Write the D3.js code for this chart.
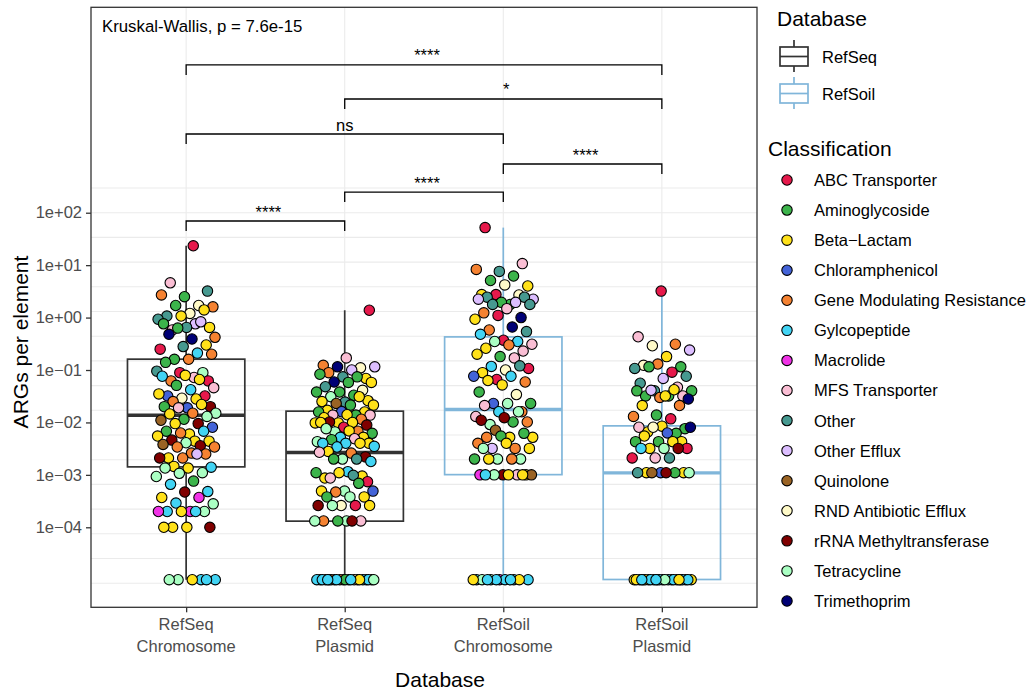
<!DOCTYPE html>
<html>
<head>
<meta charset="utf-8">
<script src="https://cdn.jsdelivr.net/npm/d3@7"></script>
<style>
  body { margin: 0; background: #fff; }
  svg text { font-family: "Liberation Sans", Arial, Helvetica, sans-serif; }
</style>
</head>
<body>
<svg id="chart" width="1030" height="692"></svg>
<script>
// ---------------- data ----------------
const groups = ["RefSeq Chromosome", "RefSeq Plasmid", "RefSoil Chromosome", "RefSoil Plasmid"];
const groupDatabase = ["RefSeq", "RefSeq", "RefSoil", "RefSoil"];
const databases = ["RefSeq", "RefSoil"];

const classCodes = ["ABC", "Ami", "Bet", "Chl", "Gen", "Gly", "Mac", "MFS", "Oth", "OEf", "Qui", "RND", "rRN", "Tet", "Tri"];
const classNames = ["ABC Transporter", "Aminoglycoside", "Beta\u2212Lactam", "Chloramphenicol",
  "Gene Modulating Resistance", "Gylcopeptide", "Macrolide", "MFS Transporter", "Other",
  "Other Efflux", "Quinolone", "RND Antibiotic Efflux", "rRNA Methyltransferase", "Tetracycline", "Trimethoprim"];

// Box summaries per group (ARGs per element)
const whiskerLow  = [1e-5, 1e-5, 1e-5, 1e-5];
const lowerHinge  = [0.00142, 0.000131, 0.00101, 0.0000101];
const medians     = [0.0137, 0.00267, 0.0176, 0.00109];
const upperHinge  = [0.161, 0.0164, 0.428, 0.0086];
const whiskerHigh = [23.4, 1.38, 52, 3.1];

// Elements with no ARG hits are shown at 1e-05
const refseqChromosome = [
  [23.4,"ABC"],[4.6,"MFS"],[3.2,"Oth"],[2.5,"Ami"],[2.7,"Gen"],[1.7,"RND"],[1.7,"Ami"],[1.6,"Gen"],[1.2,"RND"],[1.07,"Oth"],
  [1.4,"Bet"],[1.07,"Bet"],[0.93,"Oth"],[0.76,"OEf"],[0.58,"MFS"],[0.65,"Bet"],[0.65,"Oth"],[0.76,"Ami"],[0.83,"OEf"],[0.63,"Ami"],
  [0.42,"Gen"],[0.39,"Tri"],[0.48,"Tri"],[0.30,"Bet"],[0.28,"Oth"],[0.25,"ABC"],[0.21,"Gly"],[0.16,"Ami"],[0.20,"Gen"],[0.16,"Gen"],
  [0.14,"Ami"],[0.089,"Tet"],[0.089,"ABC"],[0.095,"Oth"],[0.072,"MFS"],[0.062,"Gen"],[0.062,"ABC"],[0.079,"Bet"],[0.076,"Gly"],[0.066,"Bet"],
  [0.051,"Ami"],[0.046,"MFS"],[0.042,"Gly"],[0.032,"Chl"],[0.032,"ABC"],[0.029,"RND"],[0.035,"Bet"],[0.028,"Bet"],[0.025,"Gen"],[0.020,"rRN"],
  [0.019,"Chl"],[0.020,"Ami"],[0.022,"Bet"],[0.019,"MFS"],[0.015,"Tet"],[0.015,"Gen"],[0.0145,"Bet"],[0.013,"Tet"],[0.0115,"Ami"],[0.011,"Qui"],
  [0.0095,"rRN"],[0.0095,"Bet"],[0.0081,"Chl"],[0.006,"Bet"],[0.0068,"Ami"],[0.0068,"Gly"],[0.0063,"Gen"],[0.0055,"Bet"],[0.0044,"Bet"],[0.0046,"rRN"],
  [0.0044,"Bet"],[0.0041,"Tet"],[0.0038,"Qui"],[0.0036,"rRN"],[0.0034,"Gen"],[0.0034,"Gen"],[0.0026,"Gen"],[0.0021,"Bet"],[0.0025,"Gen"],[0.0021,"Gen"],
  [0.0021,"rRN"],[0.0025,"OEf"],[0.00145,"Bet"],[0.0014,"Gly"],[0.00135,"Bet"],[0.00135,"Tet"],[0.0011,"Tet"],[0.00107,"Tet"],[0.00093,"Tet"],[0.00076,"Ami"],
  [0.00066,"Gly"],[0.00048,"Gly"],[0.00047,"rRN"],[0.00037,"Bet"],[0.00037,"Mac"],[0.00029,"Gly"],[0.00028,"Tet"],[0.0002,"Mac"],[0.0002,"Gly"],[0.0002,"Tet"],
  [0.0002,"Bet"],[0.0002,"Mac"],[0.0002,"Gly"],[0.0001,"Bet"],[0.0001,"rRN"],[0.0001,"Bet"],[0.0001,"Bet"],
  [1e-5,"Gly"],[1e-5,"Tet"],[1e-5,"Gly"],[1e-5,"Bet"],[1e-5,"Tet"],[1e-5,"Gly"]
];

const refseqPlasmid = [
  [1.38,"ABC"],[0.17,"MFS"],[0.123,"Gen"],[0.11,"RND"],[0.115,"Tri"],[0.115,"OEf"],[0.1,"OEf"],[0.089,"Gen"],[0.069,"Bet"],[0.074,"Oth"],
  [0.083,"Ami"],[0.074,"Ami"],[0.059,"Tri"],[0.058,"Bet"],[0.058,"Ami"],[0.048,"Oth"],[0.041,"RND"],[0.038,"Ami"],[0.038,"Ami"],[0.033,"Ami"],
  [0.031,"Tet"],[0.026,"Bet"],[0.0245,"Oth"],[0.025,"Bet"],[0.031,"Bet"],[0.023,"Qui"],[0.0214,"Bet"],[0.0214,"Ami"],[0.017,"Bet"],[0.0158,"Bet"],
  [0.016,"Chl"],[0.0158,"Ami"],[0.0138,"Ami"],[0.0138,"MFS"],[0.0138,"MFS"],[0.014,"Bet"],[0.0123,"Bet"],[0.0115,"Gen"],[0.0098,"Bet"],[0.0098,"Bet"],
  [0.01,"Bet"],[0.0102,"rRN"],[0.0089,"rRN"],[0.0081,"ABC"],[0.01,"Bet"],[0.0068,"Gen"],[0.0066,"Tet"],[0.0062,"Ami"],[0.0069,"Bet"],[0.0076,"Tet"],
  [0.0052,"Bet"],[0.0052,"Gly"],[0.0043,"Tet"],[0.0049,"MFS"],[0.0047,"Ami"],[0.004,"Bet"],[0.004,"Gly"],[0.004,"Gly"],[0.004,"Bet"],[0.0034,"Gly"],
  [0.0035,"Gly"],[0.0026,"Gen"],[0.0028,"Bet"],[0.0022,"rRN"],[0.002,"Tet"],[0.0027,"MFS"],[0.002,"Oth"],[0.002,"Ami"],[0.0018,"Gly"],[0.00115,"Gly"],
  [0.00087,"Bet"],[0.00095,"Bet"],[0.0011,"Bet"],[0.0011,"Ami"],[0.00098,"Oth"],[0.00087,"MFS"],[0.00074,"ABC"],[0.00049,"Tet"],[0.00049,"Bet"],[0.00069,"Ami"],
  [0.00047,"Gen"],[0.00049,"Chl"],[0.00038,"Tet"],[0.00038,"Ami"],[0.00038,"Bet"],
  [0.00026,"RND"],[0.00026,"rRN"],[0.00026,"ABC"],[0.00026,"Tet"],[0.00026,"Bet"],
  [0.000132,"Tet"],[0.000132,"Gen"],[0.000132,"MFS"],[0.000132,"Ami"],[0.000132,"Tet"],[0.000132,"rRN"],
  [1e-5,"Gly"],[1e-5,"Gly"],[1e-5,"Bet"],[1e-5,"Qui"],[1e-5,"Gly"],[1e-5,"Gly"],[1e-5,"Bet"],[1e-5,"Gly"],[1e-5,"Bet"],[1e-5,"Gly"],
  [1e-5,"Gen"],[1e-5,"Gly"],[1e-5,"RND"],[1e-5,"Qui"],[1e-5,"Gly"],[1e-5,"Ami"],[1e-5,"Gly"],[1e-5,"Bet"],[1e-5,"Gly"],[1e-5,"Tet"],
  [1e-5,"Gly"],[1e-5,"Gly"]
];

const refsoilChromosome = [
  [52,"ABC"],[10.7,"MFS"],[7.6,"Oth"],[8.3,"Gen"],[6.2,"Ami"],[5.1,"Ami"],[4.0,"Bet"],[4.2,"RND"],[2.75,"Bet"],[2.7,"RND"],
  [2.75,"ABC"],[2.24,"OEf"],[1.78,"Ami"],[2.45,"Oth"],[2.45,"Oth"],[1.95,"Ami"],[2.24,"OEf"],[1.95,"OEf"],[1.78,"Oth"],[1.78,"Oth"],
  [1.48,"MFS"],[1.23,"Gen"],[1.0,"Tri"],[1.1,"ABC"],[0.93,"Bet"],[0.66,"Tri"],[0.58,"Gen"],[0.54,"Oth"],[0.37,"ABC"],[0.48,"Gly"],
  [0.35,"Gly"],[0.35,"Tet"],[0.31,"MFS"],[0.30,"Gen"],[0.26,"Bet"],[0.23,"MFS"],[0.18,"Ami"],[0.20,"Bet"],[0.17,"MFS"],[0.117,"Gly"],
  [0.107,"ABC"],[0.1,"RND"],[0.089,"Bet"],[0.12,"Oth"],[0.066,"ABC"],[0.076,"Chl"],[0.076,"Gly"],[0.063,"Bet"],[0.059,"Gen"],[0.052,"Bet"],
  [0.038,"Ami"],[0.034,"RND"],[0.023,"Chl"],[0.023,"Ami"],[0.023,"Tet"],[0.021,"MFS"],[0.016,"Gen"],[0.016,"Gly"],[0.013,"MFS"],[0.0102,"Ami"],
  [0.0091,"Tet"],[0.0102,"Gen"],[0.0123,"rRN"],[0.011,"rRN"],[0.016,"Tet"],[0.0071,"Qui"],[0.0052,"Bet"],[0.0052,"Bet"],[0.0052,"Gen"],[0.0062,"Ami"],
  [0.0055,"Ami"],[0.004,"Gen"],[0.0032,"Gen"],[0.0032,"OEf"],[0.0032,"Bet"],[0.004,"Bet"],[0.0032,"Tet"],
  [0.002,"Tet"],[0.002,"Tet"],[0.002,"Ami"],[0.002,"Gen"],[0.002,"Bet"],
  [0.001,"Bet"],[0.001,"rRN"],[0.001,"Mac"],[0.001,"MFS"],[0.001,"Tet"],[0.001,"Qui"],[0.001,"Bet"],[0.001,"Gly"],[0.001,"Bet"],
  [1e-5,"Mac"],[1e-5,"Gly"],[1e-5,"Gly"],[1e-5,"Tet"],[1e-5,"Gly"],[1e-5,"Gly"],[1e-5,"Tet"],[1e-5,"Bet"],[1e-5,"Gly"],[1e-5,"Bet"],
  [1e-5,"Gly"],[1e-5,"Gly"]
];

const refsoilPlasmid = [
  [3.2,"ABC"],[0.43,"MFS"],[0.31,"Gen"],[0.29,"RND"],[0.24,"OEf"],[0.18,"Bet"],[0.123,"RND"],[0.115,"Ami"],[0.13,"Gen"],[0.107,"Oth"],
  [0.091,"ABC"],[0.115,"Ami"],[0.076,"Oth"],[0.069,"OEf"],[0.056,"Oth"],[0.047,"MFS"],[0.04,"Oth"],[0.04,"Ami"],[0.032,"Ami"],[0.032,"Ami"],
  [0.032,"MFS"],[0.03,"Gen"],[0.04,"Ami"],[0.042,"Bet"],[0.041,"OEf"],[0.028,"Tri"],[0.032,"Bet"],[0.021,"Bet"],[0.021,"Gen"],[0.0138,"Ami"],
  [0.013,"Gen"],[0.0117,"ABC"],[0.0066,"Bet"],[0.0076,"Ami"],[0.0085,"Bet"],[0.0081,"MFS"],[0.0062,"Ami"],[0.0081,"RND"],[0.0081,"Tri"],[0.0063,"Chl"],
  [0.0055,"Bet"],[0.0043,"Bet"],[0.0043,"Ami"],[0.0043,"Ami"],[0.0043,"Bet"],[0.0032,"Bet"],[0.0032,"ABC"],[0.0032,"Tet"],[0.0032,"Gly"],[0.0032,"rRN"],
  [0.0021,"MFS"],[0.0021,"ABC"],[0.0021,"Oth"],
  [0.0011,"Bet"],[0.0011,"Bet"],[0.0011,"Chl"],[0.0011,"Oth"],[0.0011,"Ami"],[0.0011,"Qui"],[0.0011,"Tet"],[0.0011,"rRN"],
  [1e-5,"Gly"],[1e-5,"Gly"],[1e-5,"Gly"],[1e-5,"Bet"],[1e-5,"Gly"],[1e-5,"Gly"],[1e-5,"Bet"],[1e-5,"Gly"],[1e-5,"Gly"],[1e-5,"Gen"],
  [1e-5,"Qui"],[1e-5,"Bet"],[1e-5,"Gly"],[1e-5,"Bet"],[1e-5,"Gly"],[1e-5,"Gly"],[1e-5,"Bet"],[1e-5,"Gly"],[1e-5,"Gly"],[1e-5,"Gly"],
  [1e-5,"Tet"],[1e-5,"Gly"],[1e-5,"Bet"],[1e-5,"Gly"]
];

const groupPoints = [refseqChromosome, refseqPlasmid, refsoilChromosome, refsoilPlasmid];

// Pairwise Wilcoxon results: [group a, group b, label, bracket height]
const comparisons = [
  ["RefSeq Chromosome", "RefSoil Plasmid", "****", 65800],
  ["RefSeq Plasmid", "RefSoil Plasmid", "*", 14760],
  ["RefSeq Chromosome", "RefSoil Chromosome", "ns", 3170],
  ["RefSoil Chromosome", "RefSoil Plasmid", "****", 849],
  ["RefSeq Plasmid", "RefSoil Chromosome", "****", 248],
  ["RefSeq Chromosome", "RefSeq Plasmid", "****", 69.5]
];

const yTickValues = [1e2, 1e1, 1e0, 1e-1, 1e-2, 1e-3, 1e-4];
const globalTest = "Kruskal-Wallis, p = 7.6e-15";

// ---------------- styling ----------------
const classColors = ["#e6194B", "#3cb44b", "#ffe119", "#4363d8", "#f58231", "#42d4f4", "#f032e6",
  "#fabed4", "#469990", "#dcbeff", "#9A6324", "#fffac8", "#800000", "#aaffc3", "#000075"];
const dbColors = ["#333333", "#80B6DA"];

const panel = { left: 91, right: 757, top: 7.3, bottom: 607.3 };
const svg = d3.select("#chart");

const x = d3.scalePoint().domain(groups).range([panel.left, panel.right]).padding(0.6);
const step = x.step();
const y = d3.scaleLog()
  .domain([Math.pow(10, -5.526), Math.pow(10, 5.918)])
  .range([panel.bottom, panel.top]);

const colorOfClass = d3.scaleOrdinal().domain(classCodes).range(classColors);
const colorOfDb = d3.scaleOrdinal().domain(databases).range(dbColors);

// ---------------- panel background & grid ----------------
svg.append("rect")
  .attr("x", panel.left).attr("y", panel.top)
  .attr("width", panel.right - panel.left).attr("height", panel.bottom - panel.top)
  .attr("fill", "#fff");

const grid = svg.append("g").attr("stroke", "#ebebeb").attr("stroke-width", 1.1);
// horizontal guide lines, evenly spaced on the log axis
const gridLevels = d3.range(17).map(k => Math.pow(10, 2.4711 - 0.4711 * k));
grid.selectAll("line.h").data(gridLevels).join("line")
  .attr("x1", panel.left).attr("x2", panel.right)
  .attr("y1", d => y(d)).attr("y2", d => y(d));
grid.selectAll("line.v").data(groups).join("line")
  .attr("x1", d => x(d)).attr("x2", d => x(d))
  .attr("y1", panel.top).attr("y2", panel.bottom);

// ---------------- boxes ----------------
const boxW = 0.74 * step;
const boxes = svg.append("g");
groups.forEach((g, i) => {
  const cx = x(g);
  const col = colorOfDb(groupDatabase[i]);
  const b = boxes.append("g").attr("stroke", col).attr("fill", "none");
  b.append("line").attr("x1", cx).attr("x2", cx)
    .attr("y1", y(whiskerHigh[i])).attr("y2", y(upperHinge[i])).attr("stroke-width", 1.7);
  b.append("line").attr("x1", cx).attr("x2", cx)
    .attr("y1", y(lowerHinge[i])).attr("y2", y(whiskerLow[i])).attr("stroke-width", 1.7);
  b.append("rect")
    .attr("x", cx - boxW / 2).attr("width", boxW)
    .attr("y", y(upperHinge[i])).attr("height", y(lowerHinge[i]) - y(upperHinge[i]))
    .attr("stroke-width", 1.7);
  b.append("line").attr("x1", cx - boxW / 2).attr("x2", cx + boxW / 2)
    .attr("y1", y(medians[i])).attr("y2", y(medians[i])).attr("stroke-width", 3.4);
});

// ---------------- jittered points ----------------
const jitterWidth = 0.19; // fraction of the category step, each side
const pts = svg.append("g");
groupPoints.forEach((arr, gi) => {
  const cx = x(groups[gi]);
  pts.selectAll(null).data(arr).join("circle")
    .attr("cx", (d, i) => {
      const u = (((i + 1) * 0.6180339887 + gi * 0.29) % 1) - 0.5;
      return cx + u * 2 * jitterWidth * step;
    })
    .attr("cy", d => y(d[0]))
    .attr("r", 5.2)
    .attr("fill", d => colorOfClass(d[1]))
    .attr("stroke", "#000")
    .attr("stroke-width", 1.1);
});

// ---------------- significance brackets ----------------
const tip = 10;
const br = svg.append("g");
comparisons.forEach(([a, b, label, h]) => {
  const yy = y(h);
  const x1 = x(a), x2 = x(b);
  br.append("path")
    .attr("d", `M${x1},${yy + tip}V${yy}H${x2}V${yy + tip}`)
    .attr("fill", "none").attr("stroke", "#000").attr("stroke-width", 1.3);
  br.append("text")
    .attr("x", (x1 + x2) / 2 + (label === "ns" ? 0 : 3))
    .attr("y", yy - 3.5)
    .attr("text-anchor", "middle")
    .attr("font-size", 16.5)
    .attr("fill", "#000")
    .text(label);
});

svg.append("text")
  .attr("x", 102).attr("y", 31.5)
  .attr("font-size", 16.8).attr("fill", "#000")
  .text(globalTest);

// ---------------- panel border ----------------
svg.append("rect")
  .attr("x", panel.left).attr("y", panel.top)
  .attr("width", panel.right - panel.left).attr("height", panel.bottom - panel.top)
  .attr("fill", "none").attr("stroke", "#333").attr("stroke-width", 1.3);

// ---------------- axes ----------------
const fmt = v => {
  const e = Math.round(Math.log10(v));
  const s = (Math.abs(e) < 10 ? "0" : "") + Math.abs(e);
  return "1e" + (e < 0 ? "\u2212" : "+") + s;
};
const yAxis = svg.append("g")
  .attr("transform", `translate(${panel.left},0)`)
  .call(d3.axisLeft(y).tickValues(yTickValues).tickFormat(fmt).tickSize(5).tickPadding(4));
yAxis.select(".domain").remove();
yAxis.selectAll(".tick line").attr("stroke", "#333").attr("stroke-width", 1.3);
yAxis.selectAll(".tick text").attr("fill", "#4d4d4d").attr("font-size", 16.5)
  .attr("font-family", '"Liberation Sans", Arial, sans-serif');

const xAxis = svg.append("g")
  .attr("transform", `translate(0,${panel.bottom})`)
  .call(d3.axisBottom(x).tickSize(5).tickFormat(""));
xAxis.select(".domain").remove();
xAxis.selectAll(".tick line").attr("stroke", "#333").attr("stroke-width", 1.3);

const xl = svg.append("g").attr("fill", "#4d4d4d").attr("font-size", 16.5).attr("text-anchor", "middle");
groups.forEach(g => {
  const parts = g.split(" ");
  const t = xl.append("text").attr("x", x(g)).attr("y", 630);
  parts.forEach((p, k) => t.append("tspan").attr("x", x(g)).attr("y", 630 + k * 22).text(p));
});

svg.append("text").attr("x", 440).attr("y", 687)
  .attr("text-anchor", "middle").attr("font-size", 21).attr("fill", "#000").text("Database");
svg.append("text").attr("transform", "translate(28,342) rotate(-90)")
  .attr("text-anchor", "middle").attr("font-size", 21).attr("fill", "#000").text("ARGs per element");

// ---------------- legends ----------------
const lg = svg.append("g");
lg.append("text").attr("x", 777).attr("y", 25.5).attr("font-size", 21).attr("fill", "#000").text("Database");
databases.forEach((db, i) => {
  const top = 40 + i * 37;
  const col = colorOfDb(db);
  const k = lg.append("g").attr("stroke", col).attr("fill", "none").attr("stroke-width", 1.7);
  const cx = 794;
  k.append("line").attr("x1", cx).attr("x2", cx).attr("y1", top).attr("y2", top + 7);
  k.append("line").attr("x1", cx).attr("x2", cx).attr("y1", top + 26).attr("y2", top + 32);
  k.append("rect").attr("x", 780).attr("y", top + 7).attr("width", 28).attr("height", 19);
  k.append("line").attr("x1", 780).attr("x2", 808).attr("y1", top + 16.5).attr("y2", top + 16.5);
  lg.append("text").attr("x", 822).attr("y", top + 23).attr("font-size", 16.5).attr("fill", "#000").text(db);
});

lg.append("text").attr("x", 768).attr("y", 155.5).attr("font-size", 21).attr("fill", "#000").text("Classification");
classCodes.forEach((c, i) => {
  const cy = 180 + i * 30.07;
  lg.append("circle").attr("cx", 787).attr("cy", cy).attr("r", 5.2)
    .attr("fill", colorOfClass(c)).attr("stroke", "#000").attr("stroke-width", 1.1);
  lg.append("text").attr("x", 814).attr("y", cy + 6).attr("font-size", 16.5).attr("fill", "#000").text(classNames[i]);
});
</script>
</body>
</html>
